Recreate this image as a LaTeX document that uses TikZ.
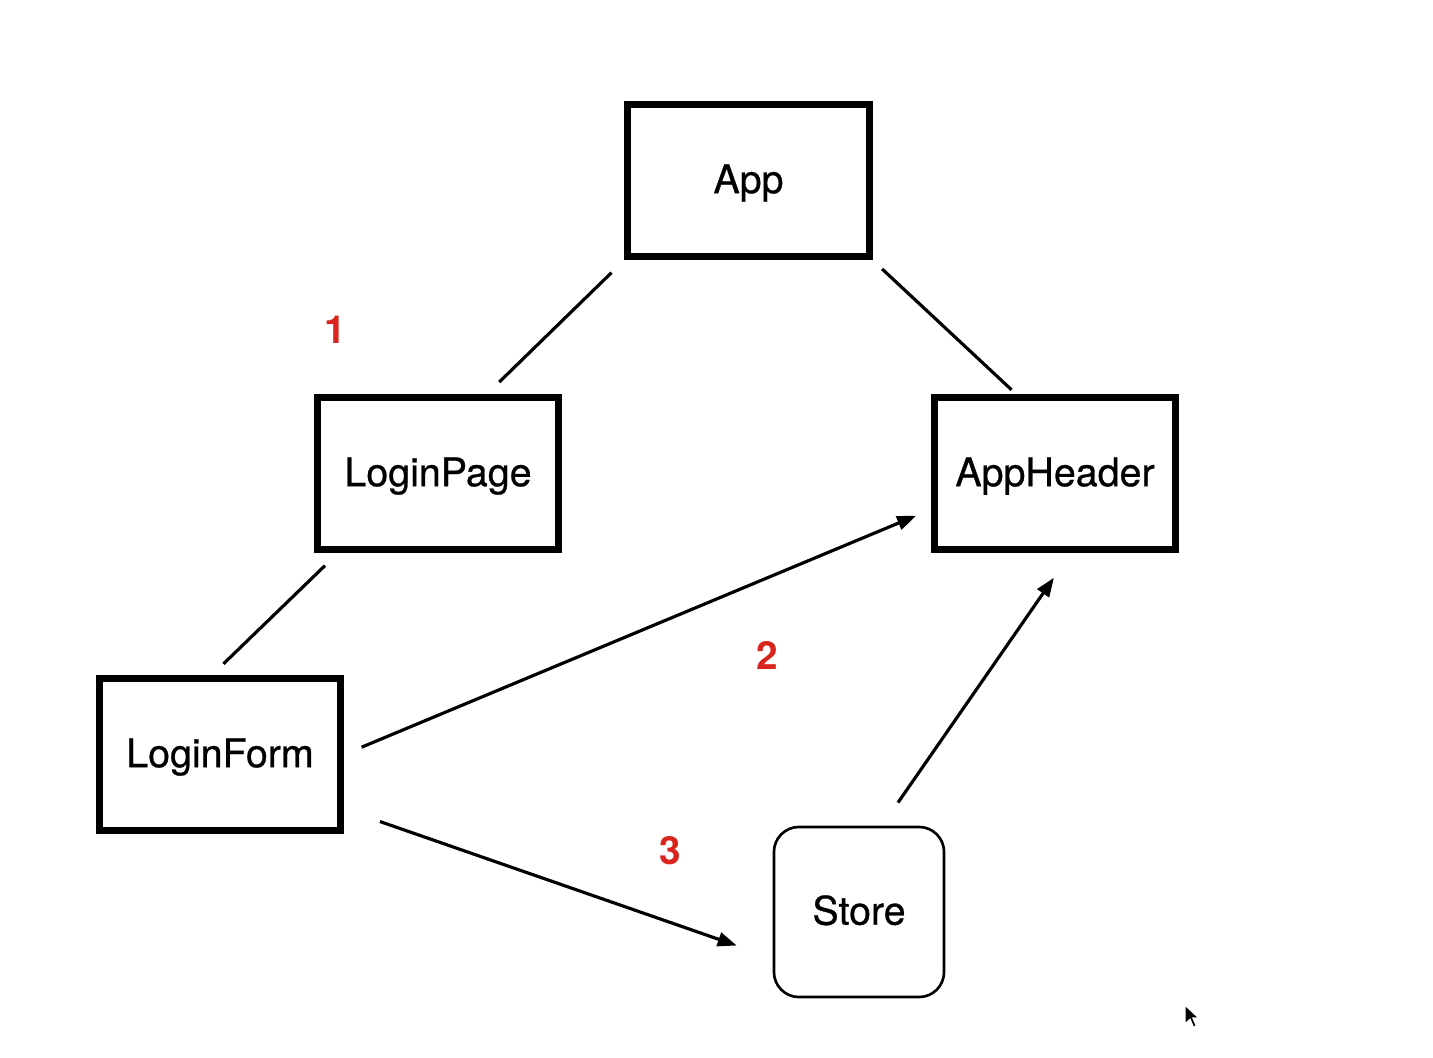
\documentclass[tikz,border=0pt]{standalone}
\usepackage{fontspec}
\setmainfont{TeX Gyre Heros}
\newfontfamily\medfont{TeX Gyre Heros}[FakeBold=0.7]
\usetikzlibrary{arrows.meta}
\definecolor{numred}{HTML}{D8261E}

\begin{document}
\begin{tikzpicture}[x=0.01cm,y=-0.01cm]
\tikzstyle{comp}=[draw=black,line width=2pt,minimum width=2.41cm,minimum height=1.52cm,inner sep=0pt,text height=0.72em,text depth=0pt,font=\medfont\fontsize{11.2}{13}\selectfont]
\tikzstyle{storebox}=[comp,line width=0.75pt,rounded corners=0.25cm,minimum width=1.7cm,minimum height=1.7cm]
\tikzstyle{num}=[text=numred,inner sep=0pt,font=\fontsize{11}{13}\selectfont\bfseries]
\tikzstyle{link}=[black,line width=0.9pt]
\tikzstyle{flow}=[link,-{Triangle[length=0.19cm,width=0.14cm]}]
\fill [white] (0,0) rectangle (1433,1057);
\useasboundingbox (0,0) rectangle (1433,1057);
\node [comp] (app) at (748.5,180.5) {App};
\node [comp] (loginpage) at (438,473.5) {LoginPage};
\node [comp] (appheader) at (1055,473.5) {AppHeader};
\node [comp] (loginform) at (220,754.5) {LoginForm};
\node [storebox] (store) at (859,912) {Store};
\node [num] (n1) at (335,330) {1};
\node [num] (n2) at (767,655) {2};
\node [num] (n3) at (670,851) {3};
\draw [link,shorten <=0.18cm,shorten >=0.17cm] (app.south west) -- ([xshift=0.49cm]loginpage.north);
\draw [link,shorten <=0.13cm,shorten >=0.06cm] (app.south east) -- ([xshift=-0.39cm]appheader.north);
\draw [link,shorten <=0.18cm,shorten >=0.16cm] ([xshift=0.24cm]loginpage.south west) -- ([xshift=-0.08cm]loginform.north);
\draw [flow,shorten <=0.19cm,shorten >=0.16cm] (loginform.east) -- ([yshift=-0.36cm]appheader.west);
\draw [flow,shorten <=0.38cm,shorten >=0.38cm] ([yshift=0.25cm]loginform.south east) -- ([yshift=-0.46cm]store.west);
\draw [flow,shorten <=0.28cm,shorten >=0.30cm] ([xshift=0.23cm]store.north) -- ([xshift=0.16cm]appheader.south);
\filldraw [black,draw=white,line width=0.4pt] (1185,1005) -- (1185,1024) -- (1190,1019.5) -- (1193.5,1027.5) -- (1196.5,1026) -- (1193,1018) -- (1199,1018) -- cycle;
\end{tikzpicture}
\end{document}
